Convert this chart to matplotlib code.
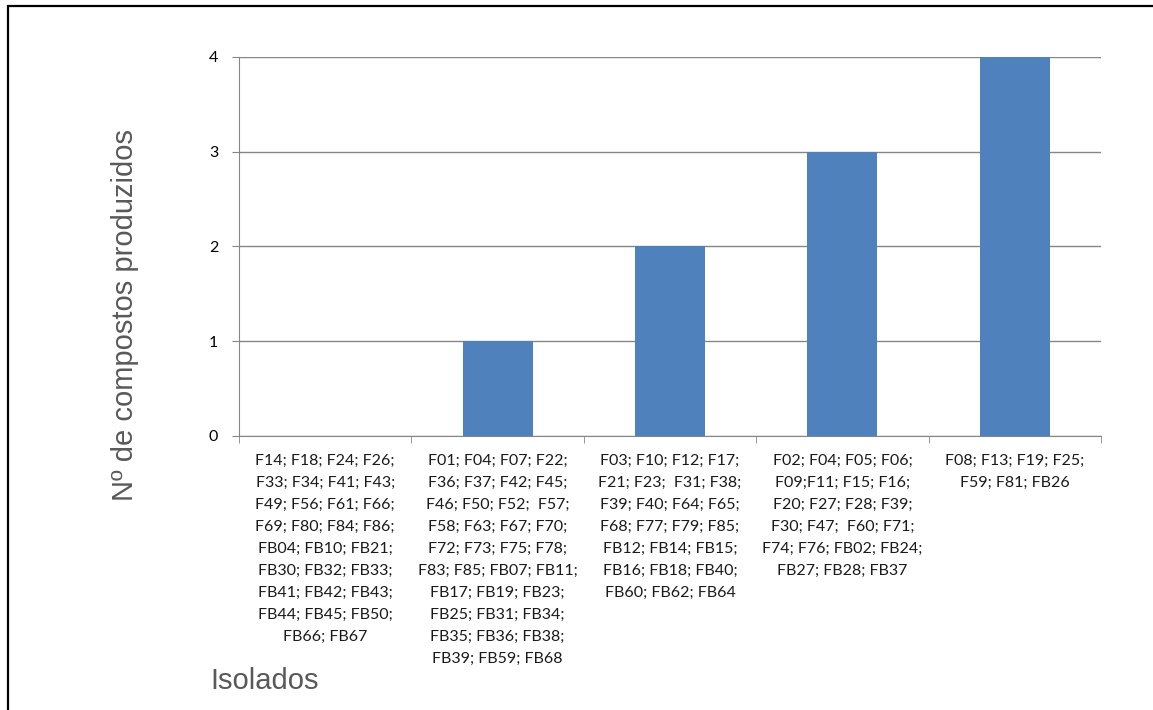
import matplotlib

matplotlib.use("Agg")
import matplotlib.pyplot as plt
from matplotlib.patches import Rectangle

# Isolates grouped by number of compounds produced
groups = [
    "F14; F18; F24; F26;\nF33; F34; F41; F43;\nF49; F56; F61; F66;\nF69; F80; F84; F86;\nFB04; FB10; FB21;\nFB30; FB32; FB33;\nFB41; FB42; FB43;\nFB44; FB45; FB50;\nFB66; FB67",
    "F01; F04; F07; F22;\nF36; F37; F42; F45;\nF46; F50; F52;  F57;\nF58; F63; F67; F70;\nF72; F73; F75; F78;\nF83; F85; FB07; FB11;\nFB17; FB19; FB23;\nFB25; FB31; FB34;\nFB35; FB36; FB38;\nFB39; FB59; FB68",
    "F03; F10; F12; F17;\nF21; F23;  F31; F38;\nF39; F40; F64; F65;\nF68; F77; F79; F85;\nFB12; FB14; FB15;\nFB16; FB18; FB40;\nFB60; FB62; FB64",
    "F02; F04; F05; F06;\nF09;F11; F15; F16;\nF20; F27; F28; F39;\nF30; F47;  F60; F71;\nF74; F76; FB02; FB24;\nFB27; FB28; FB37",
    "F08; F13; F19; F25;\nF59; F81; FB26",
]
compounds = [0, 1, 2, 3, 4]
yticks = [0, 1, 2, 3, 4]

W, H = 1153, 710
fig = plt.figure(figsize=(W / 100, H / 100), dpi=100)
ax = fig.add_axes([239 / W, 1 - 436 / H, (1101 - 239) / W, (436 - 57) / H])

x = list(range(len(groups)))
ax.bar(x, compounds, width=0.405, color="#4F81BD", zorder=3)

ax.set_xlim(-0.5, len(groups) - 0.5)
ax.set_ylim(0, 4)
ax.set_yticks(yticks)
ax.set_yticklabels([str(v) for v in yticks], fontsize=11.5, family="Lato", color="#000000")
ax.set_xticks(x)
ax.set_xticklabels(groups, fontsize=11.5, family="Lato", linespacing=1.73, va="top",
                   color="#1a1a1a")
ax.set_xticks([i - 0.5 for i in range(len(groups) + 1)], minor=True)

ax.grid(axis="y", color="#868686", linewidth=1, zorder=0)
for side in ["top", "right"]:
    ax.spines[side].set_visible(False)
ax.spines["left"].set_color("#868686")
ax.spines["bottom"].set_color("#868686")
ax.tick_params(axis="y", length=5, color="#868686", pad=10)
ax.tick_params(axis="x", which="major", length=0, pad=13)
ax.tick_params(axis="x", which="minor", length=5, color="#868686")

fig.text(125 / W, 1 - 315 / H, "Nº de compostos produzidos", rotation=90,
         ha="center", va="center", fontsize=21, family="Liberation Sans", color="#595959")
fig.text(210 / W, 1 - 681 / H, "Isolados", ha="left", va="center",
         fontsize=21, family="Liberation Sans", color="#595959")

# outer frame around the chart area
fig.patches.append(Rectangle((8 / W, -0.1), 1.2, 1 - 6 / H + 0.1, transform=fig.transFigure,
                             fill=False, edgecolor="black", linewidth=1.6))

fig.savefig("out.png", dpi=100)
